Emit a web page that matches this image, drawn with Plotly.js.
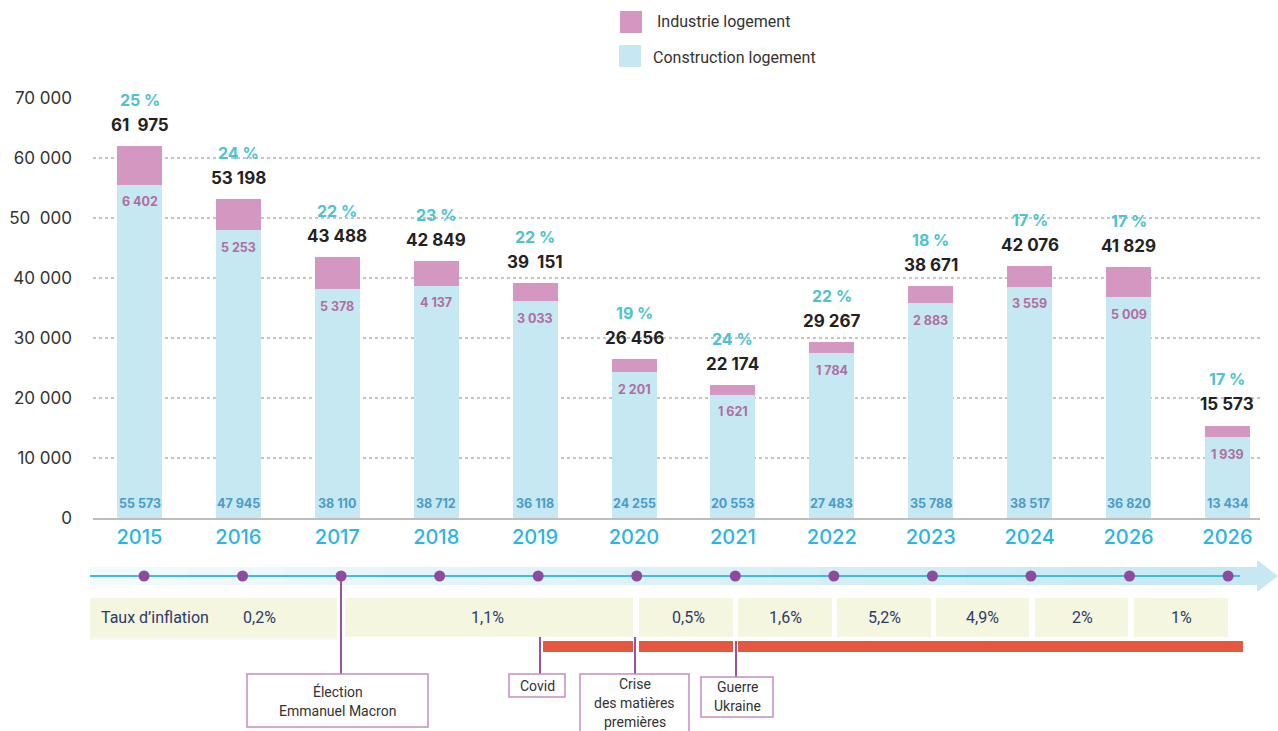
<!DOCTYPE html>
<html><head><meta charset="utf-8">
<script src="https://cdn.plot.ly/plotly-3.0.1.min.js"></script>
<style>body{margin:0;background:#fff}#chart{width:1278px;height:731px}</style>
</head><body><div id="chart"></div>
<script>
// ---- DATA ----
const years = ["2015","2016","2017","2018","2019","2020","2021","2022","2023","2024","2026","2026"];
const construction = [55573,47945,38110,38712,36118,24255,20553,27483,35788,38517,36820,13434];
const industrie = [6402,5253,5378,4137,3033,2201,1621,1784,2883,3559,5009,1939];
const totals = [61975,53198,43488,42849,39151,26456,22174,29267,38671,42076,41829,15573];
const totalLabels = ["61  975","53 198","43 488","42 849","39  151","26 456","22 174","29 267","38 671","42 076","41 829","15 573"];
const shares = ["25 %","24 %","22 %","23 %","22 %","19 %","24 %","22 %","18 %","17 %","17 %","17 %"];
const constructionLabels = ["55 573","47 945","38 110","38 712","36 118","24 255","20 553","27 483","35 788","38 517","36 820","13 434"];
const industrieLabels = ["6 402","5 253","5 378","4 137","3 033","2 201","1 621","1 784","2 883","3 559","5 009","1 939"];
const yTickVals = [0,10000,20000,30000,40000,50000,60000,70000];
const yTickText = ["0","10 000","20 000","30 000","40 000","50  000","60 000","70 000"];
const inflationLabels = ["0,2%","1,1%","0,5%","1,6%","5,2%","4,9%","2%","1%"];
const events = [["Élection","Emmanuel Macron"],["Covid"],["Crise","des matières","premières"],["Guerre","Ukraine"]];

// ---- LAYOUT HELPERS (pixel -> paper) ----
const W=1278, H=731;
const L=93, R=1260, T=98, B=518;   // bar plot area in pixels
const px = v => (v - L)/(R - L);
const py = v => (H - v)/(H - T);
const nb = s => s.replace(/ /g,'\u00a0');

const idx = years.map((_,i)=>i);
const FONT = "Inter, 'Noto Sans', sans-serif";
const SANS = "Roboto, 'Noto Sans', sans-serif";

const traces = [
  {type:'bar', x:idx, y:construction, name:'Construction logement', marker:{color:'#C5E8F2'}, width:0.455, hoverinfo:'y', showlegend:false},
  {type:'bar', x:idx, y:industrie, name:'Industrie logement', marker:{color:'#D397C2'}, width:0.455, hoverinfo:'y', showlegend:false},
  {type:'scatter', mode:'markers', x:idx, y:idx.map(()=>0), xaxis:'x2', yaxis:'y2', marker:{color:'#8E4A9E', size:11}, cliponaxis:false, showlegend:false, hoverinfo:'skip'}
];

const ann = [];
idx.forEach(i=>{
  ann.push({x:i, y:totals[i], yshift:21, text:nb(totalLabels[i]), showarrow:false, font:{family:FONT, size:17, color:'#222', weight:700}, yanchor:'middle'});
  ann.push({x:i, y:totals[i], yshift:46, text:nb(shares[i]), showarrow:false, font:{family:FONT, size:16, color:'#4CC3CF', weight:700}, yanchor:'middle'});
  ann.push({x:i, y:construction[i], yshift:-17, text:nb(industrieLabels[i]), showarrow:false, font:{family:FONT, size:12.5, color:'#B06DA3', weight:700}, yanchor:'middle'});
  ann.push({x:i, y:0, yshift:15, text:nb(constructionLabels[i]), showarrow:false, font:{family:FONT, size:12.5, color:'#4A9CC8', weight:700}, yanchor:'middle'});
});

const shapes = [];
function rect(x0,y0,x1,y1,fill,line){shapes.push({type:'rect',xref:'paper',yref:'paper',x0:px(x0),x1:px(x1),y0:py(y0),y1:py(y1),fillcolor:fill,line:line||{width:0},layer:'below'});}
function lineSeg(x0,y0,x1,y1,color,w){shapes.push({type:'line',xref:'paper',yref:'paper',x0:px(x0),x1:px(x1),y0:py(y0),y1:py(y1),line:{color:color,width:w},layer:'below'});}
function txt(x,y,t,opts){ann.push(Object.assign({xref:'paper',yref:'paper',x:px(x),y:py(y),text:t,showarrow:false,xanchor:'center',yanchor:'middle',font:{family:SANS,size:15,color:'#333'}},opts||{}));}

// legend
rect(620,11,642,33,'#D397C2');
rect(619,45,641,67,'#C5E8F2');
txt(655,22,'Industrie logement',{xanchor:'left',font:{family:SANS,size:16,color:'#333'}});
txt(651,57,'Construction logement',{xanchor:'left',font:{family:SANS,size:16,color:'#333'}});

// timeline band (gradient) + arrow
const nSeg = 24, bx0 = 90, bx1 = 1258;
for(let s=0;s<nSeg;s++){
  const t = s/(nSeg-1);
  const r = Math.round(242 + (197-242)*t), g = Math.round(250 + (232-250)*t), b = Math.round(252 + (242-252)*t);
  const a = bx0 + (bx1-bx0)*s/nSeg, c = bx0 + (bx1-bx0)*(s+1)/nSeg + 0.5;
  rect(a,567,c,585,`rgb(${r},${g},${b})`);
}
shapes.push({type:'path',xref:'paper',yref:'paper',path:`M ${px(1257)} ${py(560)} L ${px(1278)} ${py(576)} L ${px(1257)} ${py(592)} Z`,fillcolor:'#C5E8F2',line:{width:0},layer:'below'});
lineSeg(90,576,1240,576,'#3DBDE0',2);

// inflation boxes
const boxes = [[90,337],[345,633],[639,733],[738,832],[837,931],[936,1029],[1035,1128],[1134,1228]];
const boxText = [259,487,688,785,884,983,1082,1181];
boxes.forEach((b,i)=>{rect(b[0],598,b[1],637,'#F4F6DF'); txt(boxText[i],617,inflationLabels[i],{font:{family:SANS,size:16,color:'#2D3A6B'}});});
rect(90,637,337,640,'#F8F9EE');
txt(99,617,'Taux d’inflation',{xanchor:'left',font:{family:SANS,size:16,color:'#2D3A6B'}});

// red bar with gaps
rect(543,641,633,652,'#E5573E');
rect(639,641,733,652,'#E5573E');
rect(738,641,1243,652,'#E5573E');

// event connectors
const purple = '#9B52A3';
lineSeg(341,580,341,674,purple,2);
lineSeg(540,637,540,674,purple,2);
lineSeg(635,637,635,674,purple,2);
lineSeg(736,641,736,677,purple,2);

// event boxes
const evBox = [[247,674,428,727],[509,674,565,697],[580,674,689,735],[701,677,773,717]];
const evLineY = [[691,711],[686],[684,703,722],[687,706]];
events.forEach((ev,i)=>{
  const b = evBox[i];
  shapes.push({type:'rect',xref:'paper',yref:'paper',x0:px(b[0]),x1:px(b[2]),y0:py(b[1]),y1:py(b[3]),fillcolor:'#fff',line:{color:'#C38DC6',width:1.5},layer:'above'});
  ev.forEach((line,j)=>txt((b[0]+b[2])/2, evLineY[i][j], line, {font:{family:SANS,size:14,color:'#333'}}));
});

const barCenter0 = 139.5, barStep = 98.9;   // pixel geometry of the bar slots
const dotCenter0 = 144, dotStep = 98.55;    // pixel geometry of the timeline dots

const layout = {
  width:W, height:H,
  margin:{l:L, r:W-R, t:T, b:0, pad:0},
  paper_bgcolor:'#fff', plot_bgcolor:'rgba(0,0,0,0)',
  barmode:'stack', showlegend:false,
  font:{family:FONT},
  xaxis:{anchor:'y', range:[(L-barCenter0)/barStep,(R-barCenter0)/barStep], tickvals:idx, ticktext:years, tickfont:{family:FONT,size:20,color:'#29B6E3',weight:500}, showgrid:false, zeroline:false, showline:true, linecolor:'#BDBDBD', linewidth:2, ticks:'', ticklabelstandoff:0, fixedrange:true},
  yaxis:{anchor:'x', domain:[(H-B)/(H-T),1], range:[0,70000], tickvals:yTickVals, ticktext:yTickText.map(nb), tickfont:{family:FONT,size:17,color:'#333'}, showgrid:true, gridcolor:'#C4C4C4', griddash:'dot', gridwidth:1.5, zeroline:false, showline:false, ticks:'', ticklabelstandoff:20, fixedrange:true},
  xaxis2:{anchor:'y2', overlaying:'x', range:[(L-dotCenter0)/dotStep,(R-dotCenter0)/dotStep], visible:false, fixedrange:true},
  yaxis2:{anchor:'x2', domain:[(H-586)/(H-T),(H-566)/(H-T)], range:[-1,1], visible:false, fixedrange:true},
  annotations:ann, shapes:shapes
};
Plotly.newPlot('chart', traces, layout, {displayModeBar:false, staticPlot:true});
</script></body></html>
